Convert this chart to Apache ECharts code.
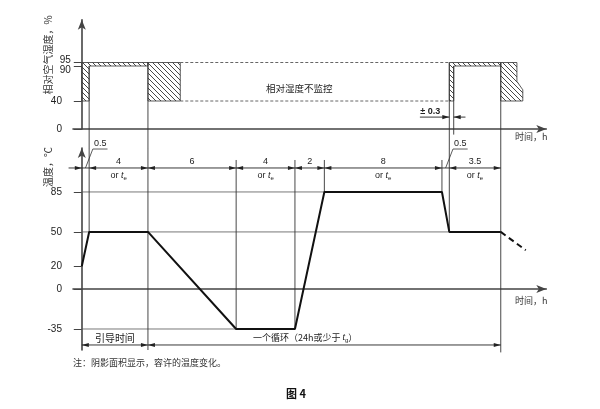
<!DOCTYPE html>
<html><head><meta charset="utf-8">
<script src="https://cdn.jsdelivr.net/npm/echarts@6/dist/echarts.min.js"></script>
<style>html,body{margin:0;padding:0;background:#fff}#c{width:600px;height:409px}</style>
</head><body><div id="c"></div>
<script>
// ---------------- data ----------------
const profileTime   = [0, 0.5, 4.5, 10.5, 14.5, 16.5, 24.5, 25, 28.5];
const profileTemp   = [20, 50, 50, -35, -35, 85, 85, 50, 50];
const nextCycleTime = [28.5, 30.2];
const nextCycleTemp = [50, 34];
const tempTicks     = [-35, 0, 20, 50, 85];
const rhTicks       = [0, 40, 90, 95];
const rhCloseTicks  = [90, 95];           // labels that sit too close together for the axis
const phaseBounds   = [0, 0.5, 4.5, 10.5, 14.5, 16.5, 24.5, 25, 28.5];
const phaseLabels   = ['0.5', '4', '6', '4', '2', '8', '0.5', '3.5'];
const phaseAltTe    = [false, true, false, true, false, true, false, true];
const rhUnmonitored = [6.7, 25];          // time span where RH is not monitored
const rhBand        = [40, 95];
const rhHatchZones  = [
  [[0,40],[0,95],[4.5,95],[4.5,90],[0.5,90],[0.5,40]],
  [[4.5,40],[4.5,95],[6.7,95],[6.7,40]],
  [[25,40],[25,95],[28.5,95],[28.5,90],[25.3,90],[25.3,40]],
  [[28.5,40],[28.5,95],[29.6,95],[29.6,68],[30,56],[30,40]]
];

// ---------------- styles / layout ----------------
const NUM_FONT = '"Liberation Sans","DejaVu Sans",sans-serif';
const CJK_FONT = '"Noto Sans CJK SC",sans-serif';
const INK = '#222', GREY = '#555';
const X_MIN = -0.6, X_MAX = 31.6;
const DIM_Y = 106, CYCLE_Y = -49, GAP_V = -27.2;

function hatchCanvas(){
  const c = document.createElement('canvas'); c.width = 5; c.height = 5;
  const g = c.getContext('2d'); g.strokeStyle = '#333'; g.lineWidth = 0.9;
  g.beginPath(); for (let k=-1;k<=1;k++){ g.moveTo(k*5,0); g.lineTo(k*5+5,5); } g.stroke();
  return c;
}
const HATCH = {image: hatchCanvas(), repeat: 'repeat'};

function segSeries(grid, segs, style, z){
  return {type:'custom', xAxisIndex:grid, yAxisIndex:grid, clip:false, silent:true, z:z||3,
    data: segs,
    renderItem:(p, api)=>{
      const a = api.coord([api.value(0), api.value(1)]), b = api.coord([api.value(2), api.value(3)]);
      return {type:'line', shape:{x1:a[0],y1:a[1],x2:b[0],y2:b[1]}, style:Object.assign({stroke:INK,lineWidth:1}, style)};
    }};
}
function dimSeries(grid, segs){
  return {type:'custom', xAxisIndex:grid, yAxisIndex:grid, clip:false, silent:true, z:4,
    data: segs,
    renderItem:(p, api)=>{
      const v = api.value(2);
      const a = api.coord([api.value(0), v]), b = api.coord([api.value(1), v]);
      const L = 7, W = 2.1;
      const ch = [{type:'line', shape:{x1:a[0],y1:a[1],x2:b[0],y2:b[1]}, style:{stroke:INK,lineWidth:0.9}}];
      if (api.value(3)) ch.push({type:'polygon', shape:{points:[[a[0],a[1]],[a[0]+L,a[1]-W],[a[0]+L,a[1]+W]]}, style:{fill:INK}});
      if (api.value(4)) ch.push({type:'polygon', shape:{points:[[b[0],b[1]],[b[0]-L,b[1]-W],[b[0]-L,b[1]+W]]}, style:{fill:INK}});
      return {type:'group', children:ch};
    }};
}
function textSeries(grid, items){
  return {type:'custom', xAxisIndex:grid, yAxisIndex:grid, clip:false, silent:true, z:6,
    data: items.map(i=>[i.t, i.v]),
    renderItem:(p, api)=>{
      const it = items[p.dataIndex];
      const c = api.coord([it.t, it.v]);
      const al = it.align || 'center', va = it.va || 'middle';
      return {type:'text', x:c[0]+(it.dx||0), y:c[1]+(it.dy||0),
        style:{text:it.text, rich:it.rich, font:it.font || ('9px '+NUM_FONT), fill:it.fill||INK,
          align:al, textAlign:al, verticalAlign:va, textVerticalAlign:va}};
    }};
}

// ---------------- derived annotation geometry ----------------
const dimTop = [[phaseBounds[0]-0.9, phaseBounds[0], DIM_Y, 0, 1]];
const dimLabels = [];
const teRich = {n:{fontSize:9, fontFamily:NUM_FONT, fill:INK}, i:{fontSize:9, fontStyle:'italic', fontFamily:NUM_FONT, fill:INK}, s:{fontSize:6, fontFamily:NUM_FONT, fill:INK, padding:[5,0,0,0]}};
const leaderSegs = [];
for (let i=0;i<phaseBounds.length-1;i++){
  const t0 = phaseBounds[i], t1 = phaseBounds[i+1], mid = (t0+t1)/2;
  const narrow = (t1 - t0) < 1;
  dimTop.push([t0, t1, DIM_Y, narrow?0:1, narrow?0:1]);
  if (narrow){
    leaderSegs.push([mid, DIM_Y, mid+0.5, 122.6], [mid+0.5, 122.6, mid+1.5, 122.6]);
    dimLabels.push({t:mid+1.0, v:122.6, dy:-1, va:'bottom', text:phaseLabels[i]});
  } else {
    dimLabels.push({t:mid, v:DIM_Y, dy:-2, va:'bottom', text:phaseLabels[i]});
    if (phaseAltTe[i]) dimLabels.push({t:mid, v:DIM_Y, dy:2, va:'top', text:'{n|or }{i|t}{s|e}', rich:teRich});
  }
}
const lastB = phaseBounds[phaseBounds.length-1];
const dimCycle = [[phaseBounds[0], phaseBounds[2], CYCLE_Y, 1, 1], [phaseBounds[2], lastB, CYCLE_Y, 1, 1]];
const cycleTexts = [
  {t:(phaseBounds[0]+phaseBounds[2])/2, v:CYCLE_Y, dy:-2, va:'bottom', text:'引导时间', font:'10px '+CJK_FONT},
  {t:11.65, v:CYCLE_Y, dy:-2, va:'bottom', align:'left', text:'{c|一个循环（24h或少于 }{i|t}{s|g}{c|）}',
   rich:{c:{fontSize:9, fontFamily:CJK_FONT, fill:INK}, i:{fontSize:9, fontFamily:NUM_FONT, fontStyle:'italic', fill:INK}, s:{fontSize:6, fontFamily:NUM_FONT, fill:INK, padding:[5,0,0,0]}}}
];
// the two crowded RH tick labels, nudged apart (95 up, 90 down)
const rhCloseLabels = rhCloseTicks.map(v=>({t:0, v:v, dx:-11, dy: v===95 ? -2 : 4, align:'right', text:String(v), font:'10px '+NUM_FONT}));

const gridLinesTemp = [[0,85,16.5,85],[0,50,lastB,50],[0,-35,10.5,-35]];
const vTemp = [[0.5,123.5,0.5,50],[4.5,123.5,4.5,-53.4],[10.5,113,10.5,-35],[14.5,113,14.5,-35],
  [16.5,113,16.5,85],[24.5,113,24.5,85],[25,123.5,25,50],[28.5,123.5,28.5,-55.5]];
const vRh = [[0.5,90,0.5,GAP_V],[4.5,95,4.5,GAP_V],[25,95,25,GAP_V],[25.3,90,25.3,-8],[28.5,95,28.5,GAP_V]];
const rhDash = rhBand.map(h=>[rhUnmonitored[0],h,rhUnmonitored[1],h]);

const axisLineStyle = {color:'#444', width:1.6};
const xAxisBase = {type:'value', min:X_MIN, max:X_MAX,
  axisLine:{show:true, onZero:true, symbol:['none','arrow'], symbolSize:[6,10], lineStyle:axisLineStyle},
  axisTick:{show:false}, axisLabel:{show:false}, splitLine:{show:false}};

const option = {
  animation:false,
  backgroundColor:'#fff',
  grid:[
    {left:72.98, width:473.34, top:19.8, height:109.2, outerBoundsMode:'none', containLabel:false},
    {left:72.98, width:473.34, top:148, height:202, outerBoundsMode:'none', containLabel:false}
  ],
  xAxis:[Object.assign({gridIndex:0}, xAxisBase), Object.assign({gridIndex:1}, xAxisBase)],
  yAxis:[
    {gridIndex:0, type:'value', min:0, max:156,
     axisLine:{show:true, onZero:true, symbol:['none','arrow'], symbolSize:[6,10], lineStyle:axisLineStyle},
     axisTick:{show:true, customValues:rhTicks, length:8, lineStyle:{color:'#444'}},
     axisLabel:{show:true, customValues:rhTicks.filter(v=>rhCloseTicks.indexOf(v)<0), margin:11, color:INK, fontSize:10, fontFamily:NUM_FONT},
     splitLine:{show:false}},
    {gridIndex:1, type:'value', min:-53.4, max:123.5,
     axisLine:{show:true, onZero:true, symbol:['none','arrow'], symbolSize:[6,10], lineStyle:axisLineStyle},
     axisTick:{show:true, customValues:tempTicks, length:8, lineStyle:{color:'#444'}},
     axisLabel:{show:true, customValues:tempTicks, margin:11, color:INK, fontSize:10, fontFamily:NUM_FONT},
     splitLine:{show:false}}
  ],
  graphic:[
    {type:'text', x:48, y:55, rotation:Math.PI/2, style:{text:'相对空气湿度，%', font:'10px '+CJK_FONT, fill:'#333', align:'center', verticalAlign:'middle', textAlign:'center', textVerticalAlign:'middle'}},
    {type:'text', x:48, y:167, rotation:Math.PI/2, style:{text:'温度，℃', font:'10px '+CJK_FONT, fill:'#333', align:'center', verticalAlign:'middle', textAlign:'center', textVerticalAlign:'middle'}},
    {type:'text', x:515, y:137, style:{text:'时间，h', font:'9px '+CJK_FONT, fill:'#333', verticalAlign:'middle', textVerticalAlign:'middle'}},
    {type:'text', x:515, y:301, style:{text:'时间，h', font:'9px '+CJK_FONT, fill:'#333', verticalAlign:'middle', textVerticalAlign:'middle'}},
    {type:'text', x:73, y:363, style:{text:'注：阴影面积显示，容许的温度变化。', font:'9px '+CJK_FONT, fill:'#333', verticalAlign:'middle', textVerticalAlign:'middle'}},
    {type:'text', x:296, y:394, style:{text:'图 4', font:'bold 11px '+CJK_FONT, fill:'#111', align:'center', verticalAlign:'middle', textAlign:'center', textVerticalAlign:'middle'}}
  ],
  series:[
    // RH tolerance (hatched)
    {type:'custom', xAxisIndex:0, yAxisIndex:0, clip:false, silent:true, z:2,
     data: rhHatchZones.map(z=>[z[0][0], z[0][1]]),
     renderItem:(p, api)=>({type:'polygon', shape:{points: rhHatchZones[p.dataIndex].map(pt=>api.coord(pt))},
       style:{fill:HATCH, stroke:'#333', lineWidth:0.8}})},
    segSeries(0, rhDash, {stroke:GREY, lineWidth:0.9, lineDash:[3,2]}),
    segSeries(0, vRh, {stroke:'#333', lineWidth:0.9}),
    dimSeries(0, [[23.0, 25, 17, 0, 1], [25.3, 26.1, 17, 1, 0]]),
    textSeries(0, [
      {t:14.8, v:58, text:'相对湿度不监控', font:'9.5px '+CJK_FONT},
      {t:23.7, v:17, dy:-1, va:'bottom', text:'± 0.3', font:'bold 9px '+NUM_FONT}
    ].concat(rhCloseLabels)),
    // temperature chart construction
    segSeries(1, gridLinesTemp, {stroke:GREY, lineWidth:0.8}),
    segSeries(1, vTemp, {stroke:'#333', lineWidth:0.9}),
    segSeries(1, leaderSegs, {stroke:'#333', lineWidth:0.8}),
    dimSeries(1, dimTop),
    dimSeries(1, dimCycle),
    textSeries(1, dimLabels.concat(cycleTexts)),
    // temperature profile
    {type:'line', xAxisIndex:1, yAxisIndex:1, z:5, silent:true, symbol:'none', showSymbol:false,
     data: profileTime.map((t,i)=>[t, profileTemp[i]]),
     lineStyle:{color:'#111', width:2}},
    {type:'line', xAxisIndex:1, yAxisIndex:1, z:5, silent:true, symbol:'none', showSymbol:false,
     data: nextCycleTime.map((t,i)=>[t, nextCycleTemp[i]]),
     lineStyle:{color:'#111', width:2, type:[6,4]}}
  ]
};
const chart = echarts.init(document.getElementById('c'), null, {renderer:'canvas', width:600, height:409});
chart.setOption(option);
</script></body></html>
